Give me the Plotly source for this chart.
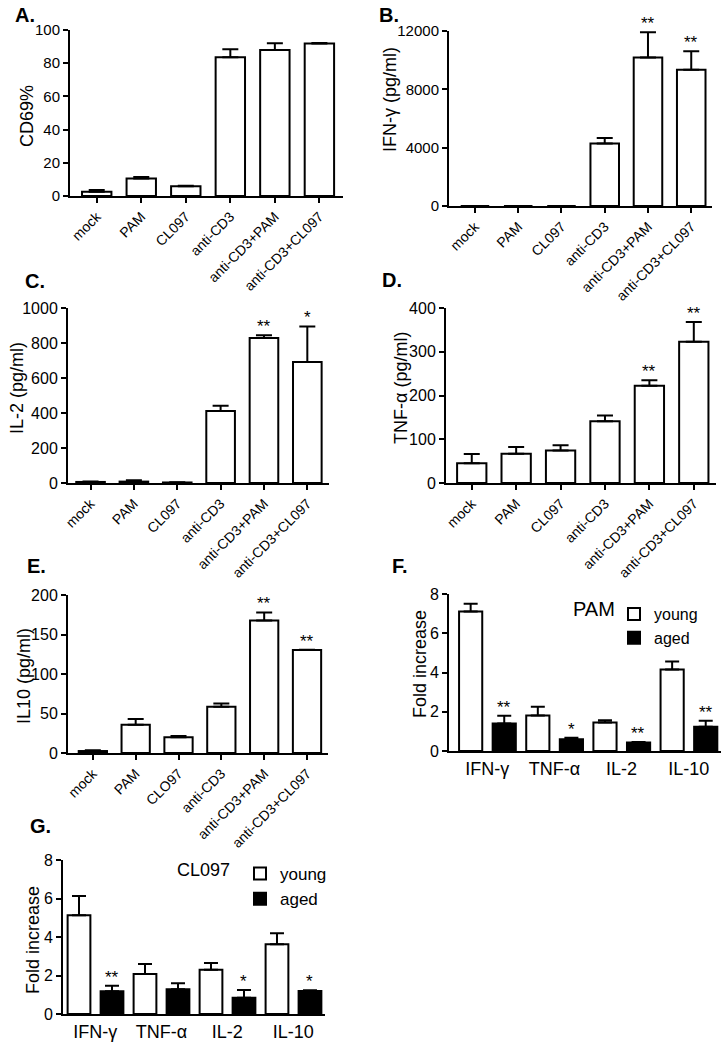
import plotly.graph_objects as go

W, H = 726, 1046
FONT = "Liberation Sans, Arial, sans-serif"

# ---------------- data ----------------
treatments = ["mock", "PAM", "CL097", "anti-CD3", "anti-CD3+PAM", "anti-CD3+CL097"]
treatments_e = ["mock", "PAM", "CLO97", "anti-CD3", "anti-CD3+PAM", "anti-CD3+CL097"]
cytokines = ["IFN-γ", "TNF-α", "IL-2", "IL-10"]

cd69_mean = [2.6, 10.6, 5.8, 83.6, 88.0, 91.8]
cd69_err = [1.0, 0.8, 0.4, 4.8, 4.0, 0.4]
cd69_sig = ["", "", "", "", "", ""]

ifng_mean = [0, 0, 0, 4280, 10190, 9340]
ifng_err = [0, 0, 0, 390, 1720, 1280]
ifng_sig = ["", "", "", "", "**", "**"]

il2_mean = [6, 8, 3, 411, 829, 691]
il2_err = [3, 7, 1, 31, 15, 204]
il2_sig = ["", "", "", "", "**", "*"]

tnfa_mean = [45, 67, 74, 141, 222, 323]
tnfa_err = [21, 15, 12, 13, 13, 45]
tnfa_sig = ["", "", "", "", "**", "**"]

il10_mean = [2.5, 35.8, 19.8, 58.5, 167.6, 130.5]
il10_err = [0.9, 7.2, 1.7, 4.2, 10.4, 0.3]
il10_sig = ["", "", "", "", "**", "**"]

pam_young = [7.11, 1.81, 1.45, 4.15]
pam_young_err = [0.39, 0.44, 0.12, 0.41]
pam_aged = [1.40, 0.60, 0.43, 1.23]
pam_aged_err = [0.39, 0.07, 0.03, 0.31]
pam_aged_sig = ["**", "*", "**", "**"]

cl_young = [5.13, 2.08, 2.30, 3.62]
cl_young_err = [1.00, 0.52, 0.35, 0.57]
cl_aged = [1.18, 1.28, 0.85, 1.20]
cl_aged_err = [0.29, 0.32, 0.40, 0.03]
cl_aged_sig = ["**", "", "*", "*"]

# ---------------- layout helpers ----------------
def xd(a, b):
    return [a / W, b / W]

def yd(top, bottom):
    return [1 - bottom / H, 1 - top / H]

fig = go.Figure()
annotations = []

LINE = dict(color="black", width=2)

def axis_style(dom, **kw):
    d = dict(domain=dom, showline=True, linecolor="black", linewidth=2,
             showgrid=False, zeroline=False, ticks="outside", ticklen=5,
             tickwidth=2, tickcolor="black",
             tickfont=dict(family=FONT, size=16, color="black"))
    d.update(kw)
    return d

def ytitle_ann(text, px, py, size=18):
    return dict(x=px / W, y=1 - py / H, xref="paper", yref="paper",
                text=text, textangle=-90, showarrow=False,
                xanchor="center", yanchor="middle",
                font=dict(family=FONT, size=size, color="black"))

single_panels = [
    # letter, cats, mean, err, sig, ytitle, yrange, dtick, xdom px, ydom px, xrange, tick font, title pos
    ("A.", treatments, cd69_mean, cd69_err, cd69_sig, "CD69%", [0, 100], 20, (70, 343), (30, 196), (-0.6, 5.53), 15, (27, 116)),
    ("B.", treatments, ifng_mean, ifng_err, ifng_sig, "IFN-γ (pg/ml)", [0, 12000], 4000, (449, 712), (31, 206), (-0.6, 5.48), 15, (390, 100)),
    ("C.", treatments, il2_mean, il2_err, il2_sig, "IL-2 (pg/ml)", [0, 1000], 200, (68, 329), (308, 483), (-0.52, 5.5), 16, (17, 388)),
    ("D.", treatments, tnfa_mean, tnfa_err, tnfa_sig, "TNF-α (pg/ml)", [0, 400], 100, (446, 716), (308, 483), (-0.58, 5.5), 16, (401, 388)),
    ("E.", treatments_e, il10_mean, il10_err, il10_sig, "IL10 (pg/ml)", [0, 200], 50, (68, 328), (595, 753), (-0.58, 5.49), 16, (24, 676)),
]

layout_axes = {}
idx = 0
for (lab, cats, mean, err, sig, ytitle, yr, dt, xpx, ypx, xr, tfs, tpos) in single_panels:
    idx += 1
    xa = "x" if idx == 1 else f"x{idx}"
    ya = "y" if idx == 1 else f"y{idx}"
    fig.add_trace(go.Bar(
        x=cats, y=mean, xaxis=xa, yaxis=ya, width=0.66,
        marker=dict(color="white", line=LINE), showlegend=False,
        error_y=dict(type="data", symmetric=False, array=err,
                     arrayminus=[0] * len(err), color="black",
                     thickness=2, width=8),
    ))
    layout_axes["xaxis" if idx == 1 else f"xaxis{idx}"] = axis_style(
        xd(*xpx), anchor=ya, type="category", tickangle=-45,
        range=list(xr), tickfont=dict(family=FONT, size=14, color="black"))
    layout_axes["yaxis" if idx == 1 else f"yaxis{idx}"] = axis_style(
        yd(*ypx), anchor=xa, range=yr, dtick=dt, tickformat="d",
        tickfont=dict(family=FONT, size=tfs, color="black"))
    annotations.append(ytitle_ann(ytitle, *tpos))
    for i, s in enumerate(sig):
        if s:
            annotations.append(dict(
                x=cats[i], y=mean[i] + err[i], xref=xa, yref=ya,
                text=s, showarrow=False, yanchor="bottom",
                font=dict(family=FONT, size=17, color="black"), yshift=-3))

group_panels = [
    ("F.", "PAM", pam_young, pam_young_err, pam_aged, pam_aged_err, pam_aged_sig,
     (449, 721), (594, 751), (-0.57, 3.48), "legend", (420, 664)),
    ("G.", "CL097", cl_young, cl_young_err, cl_aged, cl_aged_err, cl_aged_sig,
     (63, 325), (860, 1014), (-0.49, 3.48), "legend2", (33, 940)),
]

for (lab, stim, yv, ye, av, ae, asig, xpx, ypx, xr, leg, tpos) in group_panels:
    idx += 1
    xa, ya = f"x{idx}", f"y{idx}"
    fig.add_trace(go.Bar(
        x=cytokines, y=yv, xaxis=xa, yaxis=ya, name="young", legend=leg,
        width=0.345, offset=-0.42,
        marker=dict(color="white", line=LINE),
        error_y=dict(type="data", symmetric=False, array=ye,
                     arrayminus=[0] * len(ye), color="black",
                     thickness=2, width=7),
    ))
    fig.add_trace(go.Bar(
        x=cytokines, y=av, xaxis=xa, yaxis=ya, name="aged", legend=leg,
        width=0.345, offset=0.08,
        marker=dict(color="black", line=LINE),
        error_y=dict(type="data", symmetric=False, array=ae,
                     arrayminus=[0] * len(ae), color="black",
                     thickness=2, width=7),
    ))
    layout_axes[f"xaxis{idx}"] = axis_style(
        xd(*xpx), anchor=ya, type="category", range=list(xr), ticks="",
        tickfont=dict(family=FONT, size=18, color="black"))
    layout_axes[f"yaxis{idx}"] = axis_style(
        yd(*ypx), anchor=xa, range=[0, 8], dtick=2)
    annotations.append(ytitle_ann("Fold increase", *tpos))
    for i, s in enumerate(asig):
        if s:
            annotations.append(dict(
                x=i + 0.25, y=av[i] + ae[i], xref=xa, yref=ya,
                text=s, showarrow=False, yanchor="bottom",
                font=dict(family=FONT, size=17, color="black"), yshift=-3))

# stimulus labels next to legends
stim_labels = [("PAM", 571, 609, 20), ("CL097", 175, 870, 18)]
for t, px, py, fs in stim_labels:
    annotations.append(dict(x=px / W, y=1 - py / H, xref="paper", yref="paper",
                            text=t, showarrow=False, xanchor="left", yanchor="middle",
                            font=dict(family=FONT, size=fs, color="black")))

# panel letters
letters = [("A.", 13, 15), ("B.", 377, 15), ("C.", 23, 281), ("D.", 380, 280),
           ("E.", 25, 566), ("F.", 390, 566), ("G.", 28, 826)]
for t, px, py in letters:
    annotations.append(dict(x=px / W, y=1 - py / H, xref="paper", yref="paper",
                            text=f"<b>{t}</b>", showarrow=False, xanchor="left",
                            yanchor="middle",
                            font=dict(family=FONT, size=20, color="black")))

legend_common = dict(
    orientation="v", xanchor="left", yanchor="top", bgcolor="rgba(0,0,0,0)",
    itemwidth=30, tracegroupgap=0, traceorder="normal")

fig.update_layout(
    width=W, height=H, margin=dict(l=0, r=0, t=0, b=0, autoexpand=False),
    paper_bgcolor="white", plot_bgcolor="white",
    barmode="overlay", annotations=annotations,
    font=dict(family=FONT, color="black"),
    legend=dict(x=614 / W, y=1 - 597 / H,
                font=dict(family=FONT, size=16, color="black"),
                **legend_common),
    legend2=dict(x=240 / W, y=1 - 856 / H,
                 font=dict(family=FONT, size=17, color="black"),
                 **legend_common),
    **layout_axes,
)

fig.write_html("out.html",
               config={"displayModeBar": False},
               post_script="document.body.style.margin='0';"
                           "document.body.style.overflow='hidden';")
